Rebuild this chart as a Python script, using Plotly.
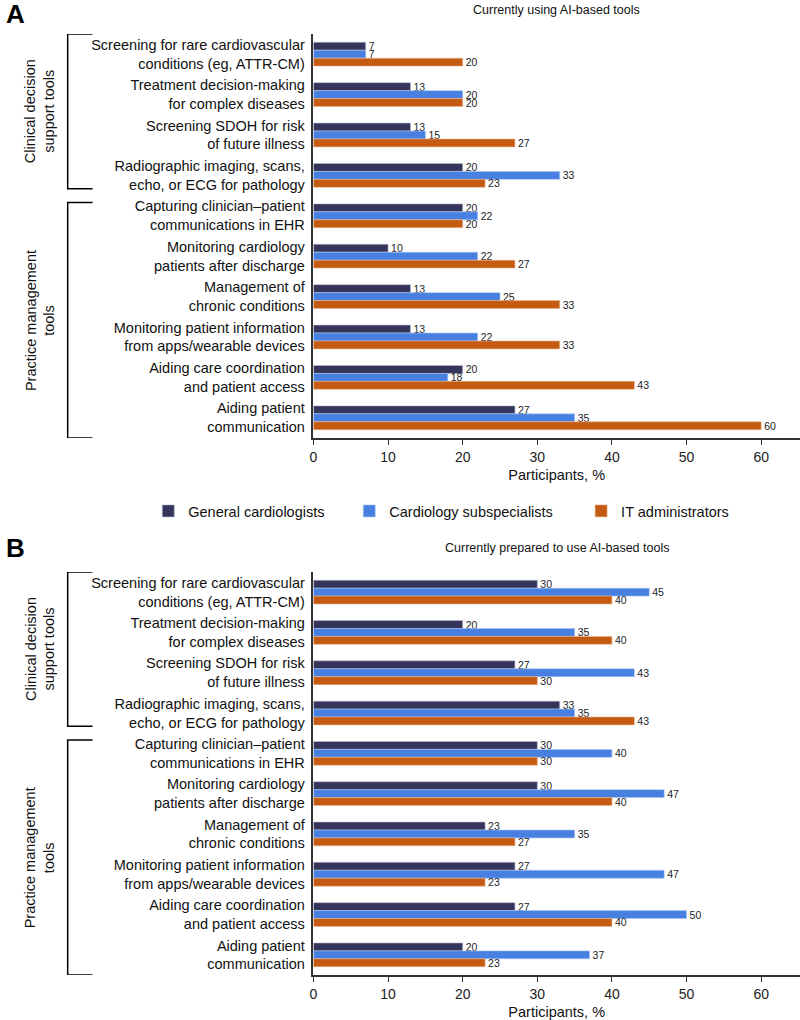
import plotly.graph_objects as go

# ---------------- data ----------------
categories = [
    "Screening for rare cardiovascular<br>conditions (eg, ATTR-CM)",
    "Treatment decision-making<br>for complex diseases",
    "Screening SDOH for risk<br>of future illness",
    "Radiographic imaging, scans,<br>echo, or ECG for pathology",
    "Capturing clinician–patient<br>communications in EHR",
    "Monitoring cardiology<br>patients after discharge",
    "Management of<br>chronic conditions",
    "Monitoring patient information<br>from apps/wearable devices",
    "Aiding care coordination<br>and patient access",
    "Aiding patient<br>communication",
]
series_names = ["General cardiologists", "Cardiology subspecialists", "IT administrators"]

using_general = [7, 13, 13, 20, 20, 10, 13, 13, 20, 27]
using_subspec = [7, 20, 15, 33, 22, 22, 25, 22, 18, 35]
using_it = [20, 20, 27, 23, 20, 27, 33, 33, 43, 60]

prepared_general = [30, 20, 27, 33, 30, 30, 23, 27, 27, 20]
prepared_subspec = [45, 35, 43, 35, 40, 47, 35, 47, 50, 37]
prepared_it = [40, 40, 30, 43, 30, 40, 27, 23, 40, 23]

x_ticks = [0, 10, 20, 30, 40, 50, 60]
panel_titles = ["Currently using AI-based tools", "Currently prepared to use AI-based tools"]
group_labels = ["Clinical decision<br>support tools", "Practice management<br>tools"]

# ---------------- style ----------------
W, H = 800, 1020
FONT = "Liberation Sans, Arial, Helvetica, sans-serif"
colors = ["#35345A", "#4780E0", "#C55B12"]
edge = ["#B9B8D0", "#A9C4F2", "#EBB58F"]
axis_color = "#333333"


def py(px):
    return 1 - px / H


def pxx(px):
    return px / W


x_dom = [pxx(311), 1.0]
domA = [py(438), py(34)]
domB = [py(975), py(572)]

fig = go.Figure()

panels = [
    ("x", "y", [using_general, using_subspec, using_it], True),
    ("x2", "y2", [prepared_general, prepared_subspec, prepared_it], False),
]
legend_ids = ["legend", "legend2", "legend3"]
for xa, ya, vals, show in panels:
    for i, (name, v) in enumerate(zip(series_names, vals)):
        fig.add_trace(go.Bar(
            y=categories, x=v, orientation="h", name=name,
            marker=dict(color=colors[i], line=dict(color=edge[i], width=0.6)),
            text=[str(t) for t in v], textposition="outside",
            textfont=dict(size=10.5, color="#222222", family=FONT),
            constraintext="none", cliponaxis=False,
            xaxis=xa, yaxis=ya, showlegend=show, legend=legend_ids[i],
            hoverinfo="skip",
        ))

xaxis_common = dict(
    range=[0, 65.2], domain=x_dom, tickvals=x_ticks, ticks="outside", ticklen=5,
    tickwidth=1.2, tickcolor=axis_color, showline=True, linewidth=1.5,
    linecolor=axis_color, showgrid=False, zeroline=False,
    tickfont=dict(size=14, color="#222222", family=FONT),
    title=dict(text="Participants, %", font=dict(size=14.5, color="#111111", family=FONT), standoff=6),
)
yaxis_common = dict(
    type="category", categoryorder="array", categoryarray=categories,
    range=[9.5, -0.5], showline=True, linewidth=1.5, linecolor=axis_color,
    ticks="", showgrid=False, zeroline=False, ticklabelstandoff=4,
    tickfont=dict(size=14.5, color="#111111", family=FONT),
)

fig.update_layout(
    width=W, height=H, margin=dict(l=0, r=0, t=0, b=0),
    paper_bgcolor="white", plot_bgcolor="white",
    barmode="group", bargap=0.41, bargroupgap=0,
    font=dict(family=FONT, color="#111111"),
    xaxis=dict(anchor="y", **xaxis_common),
    yaxis=dict(anchor="x", domain=domA, **yaxis_common),
    xaxis2=dict(anchor="y2", **xaxis_common),
    yaxis2=dict(anchor="x2", domain=domB, **yaxis_common),
)

# legend x positions (px of the entry's left edge, symbol sits ~23px right)
leg_x = [145, 347, 580]
for lid, lx in zip(legend_ids, leg_x):
    fig.layout[lid] = dict(
        orientation="h", x=pxx(lx), y=py(511), xanchor="left", yanchor="middle",
        font=dict(size=14.5, color="#111111", family=FONT), bgcolor="rgba(0,0,0,0)",
    )

annotations = []
shapes = []
# panel letters and titles
for letter, ly, title, ty in [("A", 14, panel_titles[0], 10), ("B", 548, panel_titles[1], 548)]:
    annotations.append(dict(text="<b>%s</b>" % letter, x=pxx(12), y=py(ly), xref="paper", yref="paper",
                            xanchor="center", yanchor="middle", showarrow=False,
                            font=dict(size=26, color="black", family=FONT)))
    annotations.append(dict(text=title, x=pxx(555.5), y=py(ty), xref="paper", yref="paper",
                            xanchor="center", yanchor="middle", showarrow=False,
                            font=dict(size=12.5, color="#111111", family=FONT)))

# group brackets and labels
brackets = [(-0.5, 3.33, group_labels[0]), (3.67, 9.5, group_labels[1])]
for yref in ["y", "y2"]:
    for y0, y1, lab in brackets:
        path = "M {a},{y0} L {b},{y0} L {b},{y1} L {a},{y1}".format(a=pxx(89), b=pxx(64), y0=y0, y1=y1)
        shapes.append(dict(type="path", path=path, xref="paper", yref=yref,
                           line=dict(color="black", width=1.5)))
        annotations.append(dict(text=lab, x=pxx(36), y=(y0 + y1) / 2, xref="paper", yref=yref,
                                xanchor="center", yanchor="middle", textangle=-90, showarrow=False,
                                font=dict(size=14.5, color="#111111", family=FONT)))

fig.update_layout(annotations=annotations, shapes=shapes)

# remove the default 8px page margin so the 800x1020 figure fills the window exactly
fig.write_html("out.html", config={"displayModeBar": False},
               post_script="document.body.style.margin='0';")
